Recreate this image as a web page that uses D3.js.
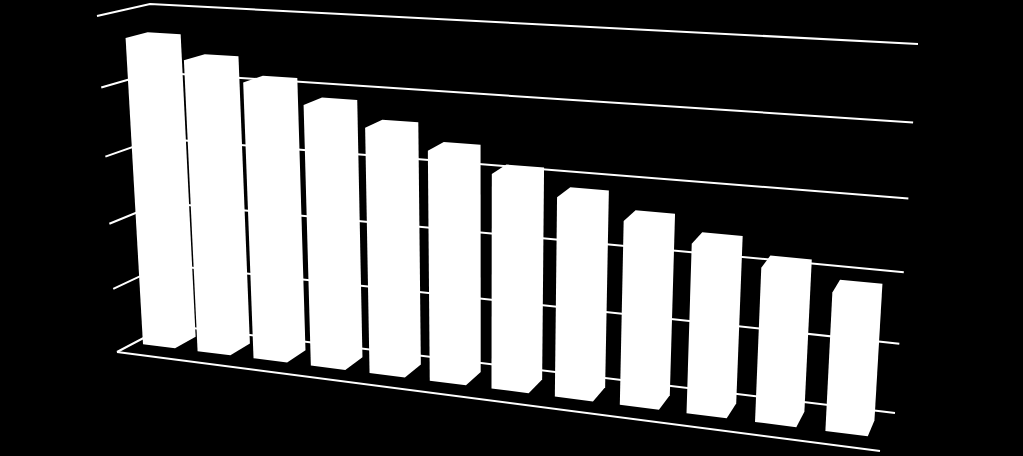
<!DOCTYPE html>
<html>
<head>
<meta charset="utf-8">
<script src="https://cdn.jsdelivr.net/npm/d3@7"></script>
<style>
  html, body { margin: 0; padding: 0; background: #000; overflow: hidden; }
</style>
</head>
<body>
<svg id="chart" width="1023" height="456"></svg>
<script>
var categories = [1, 2, 3, 4, 5, 6, 7, 8, 9, 10, 11, 12];
var values = [92.9, 87.6, 82.5, 77.4, 72.3, 67.3, 62.3, 57.4, 52.5, 48, 43.3, 38.5];
var gridTicks = [0, 20, 40, 60, 80, 100];

// corners of the 3d box as they land on the screen
var backBottomLeft = [168, 325],
  backBottomRight = [895, 413],
  backTopLeft = [150, 4],
  backTopRight = [918, 44],
  frontBottomLeft = [117, 352],
  frontBottomRight = [880, 451],
  frontTopLeft = [97, 16],
  frontTopRight = [902, 64];

var xScale = d3
  .scaleBand()
  .domain(categories)
  .range([0, 0.9945])
  .paddingInner(0.41)
  .paddingOuter(0.17);

var yScale = d3.scaleLinear().domain([0, 100]).range([0, 1]);

var depthScale = d3.scaleLinear().domain([0, 1]).range([0.25, 0.67]);

// perspective foreshortening along an axis
function foreshorten(t, w) {
  return t / (t + w * (1 - t));
}

function mix(a, b, t) {
  return [a[0] + (b[0] - a[0]) * t, a[1] + (b[1] - a[1]) * t];
}

// u along the categories, v up the values, d from back wall to front
function project(u, v, d) {
  var uu = foreshorten(u, 1.165);
  var vv = foreshorten(v, 1.08);
  var back = mix(
    mix(backBottomLeft, backBottomRight, uu),
    mix(backTopLeft, backTopRight, uu),
    vv
  );
  var front = mix(
    mix(frontBottomLeft, frontBottomRight, uu),
    mix(frontTopLeft, frontTopRight, uu),
    vv
  );
  return mix(back, front, d);
}

var line = d3.line();

var svg = d3.select("#chart");

svg
  .append("rect")
  .attr("width", 1023)
  .attr("height", 456)
  .attr("fill", "#000");

// back wall gridlines and the stubs on the side wall
var grid = svg.append("g").attr("fill", "none").attr("stroke", "#fff").attr("stroke-width", 2);

grid
  .selectAll("path.wall")
  .data(gridTicks)
  .enter()
  .append("path")
  .attr("class", "wall")
  .attr("d", function(d) {
    var v = yScale(d);
    return line([project(0, v, 1), project(0, v, 0), project(1, v, 0)]);
  });

// front edge of the floor
grid
  .append("path")
  .attr("d", line([project(0, 0, 1), project(1, 0, 1)]));

// every face of a bar is plain white, so one outline is enough
function barOutline(d, i) {
  var u0 = xScale(d),
    u1 = u0 + xScale.bandwidth(),
    v = yScale(values[i]),
    d0 = depthScale(1),
    d1 = depthScale(0);
  return d3.polygonHull([
    project(u0, 0, d0),
    project(u1, 0, d0),
    project(u1, 0, d1),
    project(u0, 0, d1),
    project(u0, v, d0),
    project(u1, v, d0),
    project(u1, v, d1),
    project(u0, v, d1)
  ]);
}

svg
  .selectAll("path.bar")
  .data(categories)
  .enter()
  .append("path")
  .attr("class", "bar")
  .attr("d", function(d, i) {
    return line(barOutline(d, i)) + "Z";
  })
  .attr("fill", "#fff");
</script>
</body>
</html>
